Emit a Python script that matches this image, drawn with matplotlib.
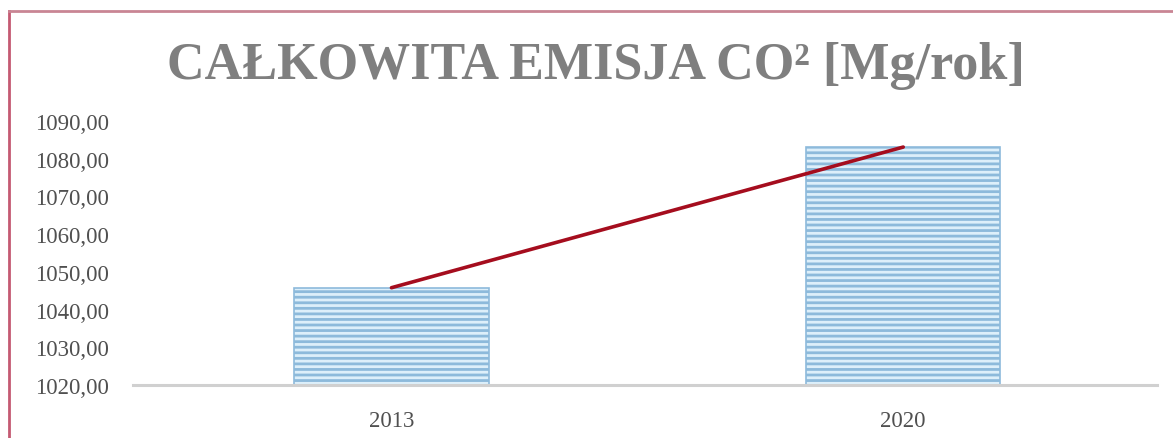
import matplotlib.pyplot as plt
from matplotlib.lines import Line2D
from matplotlib.ticker import FuncFormatter

years = ['2013', '2020']
emission = [1045.8, 1083.1]
y_ticks = [1020, 1030, 1040, 1050, 1060, 1070, 1080, 1090]

plt.rcParams['font.family'] = ['Liberation Serif', 'DejaVu Serif']
plt.rcParams['hatch.linewidth'] = 2.0
plt.rcParams['hatch.color'] = '#6597bd'

fig = plt.figure(figsize=(11.73, 4.39), dpi=100)
ax = fig.add_axes([0.1134, 0.1207, 0.8726, 0.6013])

x = range(len(years))
ax.bar(x, emission, width=0.38, bottom=0, color='#ddeffa', edgecolor='#8dbadb',
       linewidth=1.2, hatch='---')
# line joining the bar tops
ax.plot(x, emission, color='#a50d1e', linewidth=2.6, solid_capstyle='round')

ax.set_xlim(-0.505, 1.495)
ax.set_ylim(1020, 1090)
ax.set_yticks(y_ticks)
ax.yaxis.set_major_formatter(FuncFormatter(lambda v, p: f'{v:.2f}'.replace('.', ',')))
ax.set_xticks(list(x))
ax.set_xticklabels(years)

for side in ['top', 'right', 'left']:
    ax.spines[side].set_visible(False)
ax.spines['bottom'].set_color('#d0d0d0')
ax.spines['bottom'].set_linewidth(2.2)
ax.tick_params(axis='both', length=0, labelsize=16.5, labelcolor='#505050')
ax.tick_params(axis='y', pad=17)
ax.tick_params(axis='x', pad=18)

fig.text(0.508, 0.85, 'CAŁKOWITA EMISJA CO² [Mg/rok]', ha='center', va='center',
         fontsize=37.5, fontweight='bold', color='#7f7f7f')

# chart frame
fig.add_artist(Line2D([0.008, 0.008], [0, 0.972], transform=fig.transFigure,
                      color='#c45a72', linewidth=2))
fig.add_artist(Line2D([0.008, 1.0], [0.972, 0.972], transform=fig.transFigure,
                      color='#c98594', linewidth=2))

fig.savefig('out.png', dpi=100)
